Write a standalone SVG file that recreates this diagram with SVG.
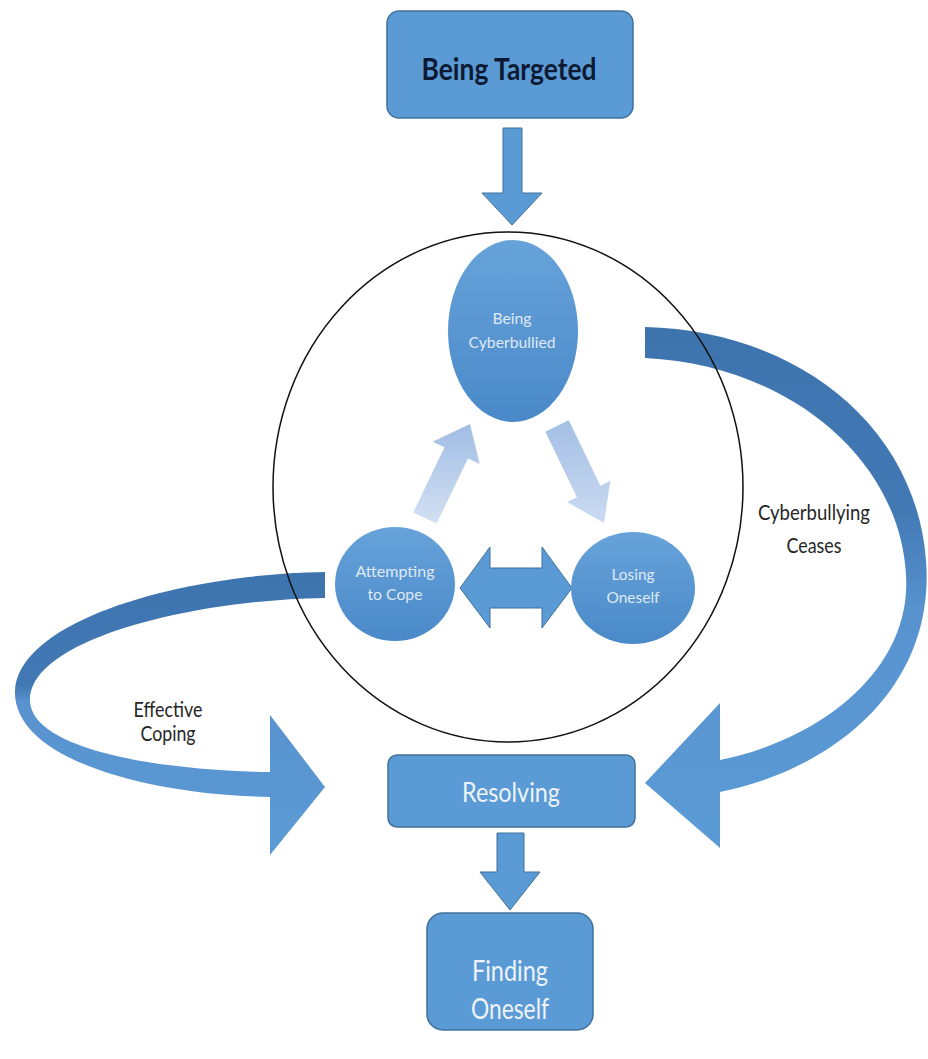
<svg xmlns="http://www.w3.org/2000/svg" width="928" height="1059" viewBox="0 0 928 1059">
<style>
.box{fill:#5b9bd5;stroke:#41719c;stroke-width:1.5}
.node{stroke:none}
.arr{fill:#5b9bd5;stroke:#41719c;stroke-width:1}
.lbl{font-family:Lato,"Open Sans","Liberation Sans",sans-serif;text-anchor:middle}
.light{fill:#dfe8f4}
.white{fill:#eef3fa}
.dark{fill:#262626}
</style>
<defs>
<linearGradient id="circ" x1="0" y1="0" x2="0" y2="1">
<stop offset="0" stop-color="#67a3da"/>
<stop offset="1" stop-color="#4a89c9"/>
</linearGradient>
<linearGradient id="lightUp" x1="0" y1="0" x2="0" y2="1">
<stop offset="0" stop-color="#a0bde4"/>
<stop offset="1" stop-color="#d3e0f2"/>
</linearGradient>
<linearGradient id="lightDown" x1="0" y1="0" x2="0" y2="1">
<stop offset="0" stop-color="#a3bfe5"/>
<stop offset="1" stop-color="#cbdaf0"/>
</linearGradient>
<linearGradient id="bandR" gradientUnits="userSpaceOnUse" x1="0" y1="327" x2="0" y2="848">
<stop offset="0" stop-color="#3e74ae"/>
<stop offset="0.35" stop-color="#4279b5"/>
<stop offset="0.55" stop-color="#5893d0"/>
<stop offset="1" stop-color="#5b9bd5"/>
</linearGradient>
<linearGradient id="bandL" gradientUnits="userSpaceOnUse" x1="0" y1="572" x2="0" y2="855">
<stop offset="0" stop-color="#3e74ae"/>
<stop offset="0.4" stop-color="#4279b5"/>
<stop offset="0.46" stop-color="#5892cf"/>
<stop offset="1" stop-color="#5b9bd5"/>
</linearGradient>
</defs>
<rect width="928" height="1059" fill="#ffffff"/>

<g id="connectors">
<path id="ceases" fill="url(#bandR)" d="M645,327 C790,330 915,420 926,560 C936,690 830,770 720,792 L720,848 L645,783 L720,703 L720,760 C820,740 912,670 906,575 C900,460 790,365 645,358 Z"/>
<path id="coping" fill="url(#bandL)" d="M325,572 C180,574 20,620 15,690 C12,760 150,795 270,797 L270,855 L325,787 L270,715 L270,772 C140,770 30,745 30,700 C30,640 190,600 325,598 Z"/>
<ellipse id="cycle" cx="508" cy="487" rx="235" ry="255" fill="none" stroke="#111111" stroke-width="1.5"/>
<polygon class="arr" points="503,128 522,128 522,193 542,193 512,225 482,193 503,193"/>
<polygon class="arr" points="497,833 524,833 524,872 540,872 510,910 480,872 497,872"/>
<polygon fill="url(#lightUp)" points="413.3,512.4 444.5,447.3 432.7,441.7 470,424 479.7,464.1 467.9,458.5 436.7,523.6"/>
<polygon fill="url(#lightDown)" points="545.3,431.7 568.7,420.3 600.4,485.8 610.3,481 604,523 567.1,502 577,497.2"/>
<polygon class="arr" points="460,588 490,547 490,568 542,568 542,547 572,588 542,628 542,608 490,608 490,628"/>
<text class="lbl dark" font-size="21" x="814" y="520" textLength="112" lengthAdjust="spacingAndGlyphs">Cyberbullying</text>
<text class="lbl dark" font-size="21" x="814" y="553" textLength="55" lengthAdjust="spacingAndGlyphs">Ceases</text>
<text class="lbl dark" font-size="21" x="168" y="717" textLength="69" lengthAdjust="spacingAndGlyphs">Effective</text>
<text class="lbl dark" font-size="21" x="168" y="741" textLength="55" lengthAdjust="spacingAndGlyphs">Coping</text>
</g>

<g id="being-targeted">
<rect class="box" x="387" y="11" width="246" height="107" rx="12"/>
<text class="lbl" font-size="31" font-weight="bold" fill="#0d1a33" x="509" y="80" textLength="175" lengthAdjust="spacingAndGlyphs">Being Targeted</text>
</g>

<g id="being-cyberbullied">
<ellipse class="node" fill="url(#circ)" cx="513" cy="331" rx="65" ry="91"/>
<text class="lbl light" font-size="16" x="512" y="324" textLength="39" lengthAdjust="spacingAndGlyphs">Being</text>
<text class="lbl light" font-size="16" x="512" y="348" textLength="87" lengthAdjust="spacingAndGlyphs">Cyberbullied</text>
</g>

<g id="attempting-to-cope">
<ellipse class="node" fill="url(#circ)" cx="395" cy="584" rx="60" ry="57"/>
<text class="lbl light" font-size="16" x="395" y="577" textLength="79" lengthAdjust="spacingAndGlyphs">Attempting</text>
<text class="lbl light" font-size="16" x="395" y="600" textLength="55" lengthAdjust="spacingAndGlyphs">to Cope</text>
</g>

<g id="losing-oneself">
<ellipse class="node" fill="url(#circ)" cx="633" cy="588" rx="62" ry="56"/>
<text class="lbl light" font-size="16" x="633" y="580" textLength="43" lengthAdjust="spacingAndGlyphs">Losing</text>
<text class="lbl light" font-size="16" x="633" y="603" textLength="53" lengthAdjust="spacingAndGlyphs">Oneself</text>
</g>

<g id="resolving">
<rect class="box" x="388" y="755" width="247" height="72" rx="9"/>
<text class="lbl white" font-size="26" x="511" y="802" textLength="98" lengthAdjust="spacingAndGlyphs">Resolving</text>
</g>

<g id="finding-oneself">
<rect class="box" x="427" y="913" width="166" height="117" rx="16"/>
<text class="lbl white" font-size="28" x="510" y="981" textLength="76" lengthAdjust="spacingAndGlyphs">Finding</text>
<text class="lbl white" font-size="28" x="510" y="1019" textLength="78" lengthAdjust="spacingAndGlyphs">Oneself</text>
</g>
</svg>
